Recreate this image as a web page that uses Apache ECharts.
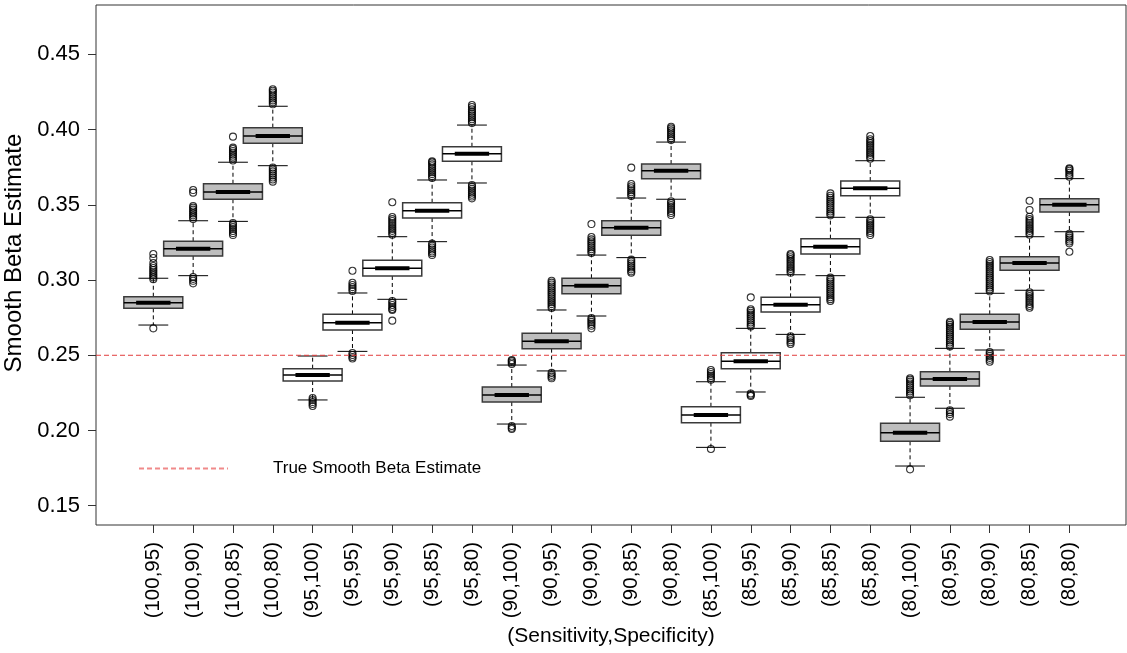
<!DOCTYPE html>
<html><head><meta charset="utf-8">
<script src="https://cdn.jsdelivr.net/npm/echarts@6/dist/echarts.min.js"></script>
<style>html,body{margin:0;padding:0;background:#fff}#chart{width:1127px;height:653px}</style>
</head><body><div id="chart"></div>
<script>
// ---------------- data ----------------
const categories = ['(100,95)','(100,90)','(100,85)','(100,80)','(95,100)','(95,95)','(95,90)','(95,85)','(95,80)','(90,100)','(90,95)','(90,90)','(90,85)','(90,80)','(85,100)','(85,95)','(85,90)','(85,85)','(85,80)','(80,100)','(80,95)','(80,90)','(80,85)','(80,80)'];
const lowerWhisker = [0.2701,0.3029,0.3390,0.3760,0.2203,0.2526,0.2872,0.3255,0.3645,0.2043,0.2396,0.2761,0.3149,0.3537,0.1888,0.2256,0.2639,0.3029,0.3417,0.1764,0.2148,0.2535,0.2932,0.3321];
const q1 = [0.2812,0.3160,0.3537,0.3909,0.2329,0.2668,0.3027,0.3412,0.3789,0.2189,0.2544,0.2909,0.3297,0.3674,0.2052,0.2411,0.2788,0.3173,0.3561,0.1928,0.2296,0.2673,0.3065,0.3452];
const median = [0.2849,0.3208,0.3585,0.3957,0.2369,0.2717,0.3078,0.3461,0.3840,0.2236,0.2593,0.2962,0.3348,0.3727,0.2103,0.2460,0.2836,0.3222,0.3610,0.1985,0.2342,0.2721,0.3113,0.3501];
const q3 = [0.2889,0.3258,0.3640,0.4013,0.2411,0.2772,0.3131,0.3514,0.3886,0.2289,0.2646,0.3012,0.3394,0.3771,0.2158,0.2517,0.2885,0.3275,0.3658,0.2048,0.2391,0.2772,0.3155,0.3541];
const upperWhisker = [0.3012,0.3394,0.3783,0.4155,0.2495,0.2914,0.3288,0.3665,0.4030,0.2435,0.2801,0.3166,0.3545,0.3917,0.2324,0.2679,0.3035,0.3417,0.3793,0.2221,0.2546,0.2912,0.3288,0.3674];
const outliers = [
  [0.2679,0.3006,0.3018,0.3030,0.3042,0.3055,0.3067,0.3080,0.3093,0.3113,0.3147,0.3173],
  [0.3020,0.3008,0.2995,0.2978,0.3405,0.3418,0.3430,0.3443,0.3456,0.3468,0.3481,0.3492,0.3581,0.3598],
  [0.3378,0.3365,0.3352,0.3339,0.3326,0.3312,0.3299,0.3795,0.3808,0.3820,0.3833,0.3846,0.3858,0.3871,0.3880,0.3953],
  [0.3748,0.3735,0.3722,0.3708,0.3695,0.3682,0.3668,0.3654,0.4168,0.4181,0.4194,0.4207,0.4220,0.4233,0.4246,0.4258,0.4268],
  [0.2216,0.2202,0.2189,0.2176,0.2163],
  [0.2515,0.2502,0.2489,0.2479,0.2927,0.2940,0.2953,0.2967,0.2982,0.3062],
  [0.2861,0.2848,0.2834,0.2821,0.2808,0.2801,0.2730,0.3301,0.3314,0.3327,0.3340,0.3353,0.3366,0.3379,0.3392,0.3405,0.3419,0.3517],
  [0.3242,0.3229,0.3216,0.3203,0.3190,0.3178,0.3166,0.3678,0.3691,0.3704,0.3717,0.3730,0.3743,0.3756,0.3769,0.3782,0.3789],
  [0.3632,0.3619,0.3606,0.3593,0.3580,0.3567,0.3555,0.3543,0.4043,0.4056,0.4069,0.4082,0.4095,0.4108,0.4121,0.4134,0.4150,0.4163],
  [0.2030,0.2018,0.2010,0.2442,0.2452,0.2462,0.2468],
  [0.2383,0.2370,0.2358,0.2347,0.2814,0.2827,0.2840,0.2853,0.2866,0.2879,0.2892,0.2905,0.2918,0.2931,0.2944,0.2957,0.2970,0.2983,0.2995],
  [0.2748,0.2735,0.2722,0.2709,0.2696,0.2679,0.3179,0.3192,0.3205,0.3218,0.3231,0.3244,0.3257,0.3270,0.3286,0.3372],
  [0.3136,0.3123,0.3110,0.3097,0.3084,0.3071,0.3058,0.3049,0.3558,0.3571,0.3584,0.3597,0.3610,0.3623,0.3638,0.3747],
  [0.3524,0.3511,0.3498,0.3485,0.3472,0.3459,0.3446,0.3432,0.3930,0.3943,0.3956,0.3969,0.3982,0.3995,0.4008,0.4019],
  [0.1877,0.2337,0.2350,0.2363,0.2376,0.2389,0.2402],
  [0.2246,0.2236,0.2229,0.2692,0.2705,0.2718,0.2731,0.2744,0.2757,0.2770,0.2783,0.2796,0.2806,0.2885],
  [0.2626,0.2613,0.2600,0.2587,0.2575,0.3048,0.3061,0.3074,0.3087,0.3100,0.3113,0.3126,0.3139,0.3152,0.3165,0.3173],
  [0.3016,0.3003,0.2990,0.2977,0.2964,0.2951,0.2938,0.2925,0.2912,0.2899,0.2886,0.2873,0.2861,0.3430,0.3443,0.3456,0.3469,0.3482,0.3495,0.3508,0.3521,0.3534,0.3547,0.3560,0.3576],
  [0.3404,0.3391,0.3378,0.3365,0.3352,0.3339,0.3326,0.3313,0.3299,0.3806,0.3819,0.3832,0.3845,0.3858,0.3871,0.3884,0.3897,0.3910,0.3923,0.3936,0.3957],
  [0.1742,0.2234,0.2247,0.2260,0.2273,0.2286,0.2299,0.2312,0.2325,0.2338,0.2347],
  [0.2135,0.2122,0.2109,0.2092,0.2559,0.2572,0.2585,0.2598,0.2611,0.2624,0.2637,0.2650,0.2663,0.2676,0.2689,0.2702,0.2715,0.2723],
  [0.2522,0.2509,0.2496,0.2483,0.2470,0.2457,0.2925,0.2938,0.2951,0.2964,0.2977,0.2990,0.3003,0.3016,0.3029,0.3042,0.3055,0.3068,0.3081,0.3094,0.3107,0.3120,0.3133],
  [0.2919,0.2906,0.2893,0.2880,0.2867,0.2854,0.2841,0.2828,0.2816,0.3301,0.3314,0.3327,0.3340,0.3353,0.3366,0.3379,0.3392,0.3405,0.3421,0.3466,0.3527],
  [0.3308,0.3295,0.3282,0.3269,0.3256,0.3244,0.3188,0.3687,0.3700,0.3713,0.3726,0.3737,0.3743]
];
const trueBeta = 0.25;
const yTicks = [0.15,0.20,0.25,0.30,0.35,0.40,0.45];
const legendLabel = 'True Smooth Beta Estimate';

// ---------------- chart ----------------
const FONT = '"Liberation Sans", Arial, sans-serif';
const Y_MIN = 0.1372, Y_MAX = 0.4828;
const chart = echarts.init(document.getElementById('chart'), null, {renderer: 'canvas'});

const boxData = categories.map((c, i) => [i, lowerWhisker[i], q1[i], median[i], q3[i], upperWhisker[i]]);
const outlierData = [];
outliers.forEach((arr, i) => arr.forEach(v => outlierData.push([i, v])));

function renderBox(params, api) {
  const i = api.value(0);
  const pLo = api.coord([i, api.value(1)]);
  const pQ1 = api.coord([i, api.value(2)]);
  const pMd = api.coord([i, api.value(3)]);
  const pQ3 = api.coord([i, api.value(4)]);
  const pHi = api.coord([i, api.value(5)]);
  const unit = Math.abs(api.coord([1, api.value(3)])[0] - api.coord([0, api.value(3)])[0]);
  const half = unit * 0.74;
  const cap = unit * 0.375;
  const cx = pMd[0];
  const sens = parseInt(categories[i].slice(1), 10);
  const fill = (sens % 10 === 0) ? '#bebebe' : '#ffffff';
  const dash = {stroke: '#000', lineWidth: 1, lineDash: [4, 3]};
  const solid = {stroke: '#000', lineWidth: 1};
  return {type: 'group', children: [
    {type: 'line', shape: {x1: cx, y1: pQ3[1], x2: cx, y2: pHi[1]}, style: dash},
    {type: 'line', shape: {x1: cx, y1: pQ1[1], x2: cx, y2: pLo[1]}, style: dash},
    {type: 'line', shape: {x1: cx - cap, y1: pHi[1], x2: cx + cap, y2: pHi[1]}, style: solid},
    {type: 'line', shape: {x1: cx - cap, y1: pLo[1], x2: cx + cap, y2: pLo[1]}, style: solid},
    {type: 'rect', shape: {x: cx - half, y: pQ3[1], width: 2 * half, height: pQ1[1] - pQ3[1]},
      style: {fill: fill, stroke: '#3a3a3a', lineWidth: 1.5}},
    {type: 'line', shape: {x1: cx - half, y1: pMd[1], x2: cx + half, y2: pMd[1]}, style: {stroke: '#000', lineWidth: 1.5}},
    {type: 'line', shape: {x1: cx - cap * 1.15, y1: pMd[1], x2: cx + cap * 1.15, y2: pMd[1]}, style: {stroke: '#000', lineWidth: 4}}
  ]};
}

const option = {
  backgroundColor: '#fff',
  animation: false,
  textStyle: {fontFamily: FONT},
  grid: [
    {left: 96, top: 5, width: 1030, height: 520, show: true, borderColor: '#333', borderWidth: 1,
     backgroundColor: 'transparent', containLabel: false, outerBoundsMode: 'none'},
    {left: 133.4, top: 5, width: 955.9, height: 520, show: false, containLabel: false, outerBoundsMode: 'none'}
  ],
  xAxis: [
    {type: 'value', gridIndex: 0, min: 0, max: 1,
     axisLine: {show: false}, axisTick: {show: false}, axisLabel: {show: false}, splitLine: {show: false},
     name: '(Sensitivity,Specificity)', nameLocation: 'middle', nameGap: 101,
     nameTextStyle: {fontSize: 21, color: '#000', fontFamily: FONT}},
    {type: 'category', gridIndex: 1, data: categories, boundaryGap: true,
     axisLine: {show: false},
     axisTick: {show: true, alignWithLabel: true, length: 8, lineStyle: {color: '#333', width: 1}},
     axisLabel: {rotate: 90, interval: 0, fontSize: 20.5, color: '#000', margin: 17, fontFamily: FONT},
     splitLine: {show: false}}
  ],
  yAxis: [
    {type: 'value', gridIndex: 0, min: Y_MIN, max: Y_MAX,
     axisLine: {show: false},
     axisTick: {show: true, length: 8, customValues: yTicks, lineStyle: {color: '#333', width: 1}},
     axisLabel: {customValues: yTicks, formatter: v => v.toFixed(2), fontSize: 22, color: '#000', margin: 16, fontFamily: FONT},
     splitLine: {show: false},
     name: 'Smooth Beta Estimate', nameLocation: 'middle', nameGap: 66,
     nameTextStyle: {fontSize: 24, color: '#000', fontFamily: FONT, padding: [0, 0, 0, 24]}},
    {type: 'value', gridIndex: 1, min: Y_MIN, max: Y_MAX, show: false}
  ],
  legend: {
    show: true, left: 133, top: 455, orient: 'horizontal',
    itemWidth: 89, itemHeight: 14,
    data: [{name: legendLabel, lineStyle: {color: '#f08a8a'}, itemStyle: {opacity: 0}}],
    textStyle: {fontSize: 17, color: '#000', fontFamily: FONT, padding: [0, 0, 0, 40]},
    selectedMode: false
  },
  series: [
    {type: 'custom', name: 'boxes', xAxisIndex: 1, yAxisIndex: 1, data: boxData,
     encode: {x: 0, y: [1, 2, 3, 4, 5]}, renderItem: renderBox, z: 2, silent: true},
    {type: 'scatter', name: 'outliers', xAxisIndex: 1, yAxisIndex: 1, data: outlierData,
     symbol: 'circle', symbolSize: 7,
     itemStyle: {color: 'rgba(0,0,0,0)', borderColor: '#000', borderWidth: 1.1}, z: 3, silent: true},
    {type: 'line', name: legendLabel, xAxisIndex: 0, yAxisIndex: 0,
     data: [[0, trueBeta], [1, trueBeta]], symbol: 'none', showSymbol: false,
     itemStyle: {color: '#e23c3c'},
     lineStyle: {color: '#e23c3c', width: 1, type: [5, 3]}, z: 5, silent: true}
  ]
};
chart.setOption(option);
</script></body></html>
